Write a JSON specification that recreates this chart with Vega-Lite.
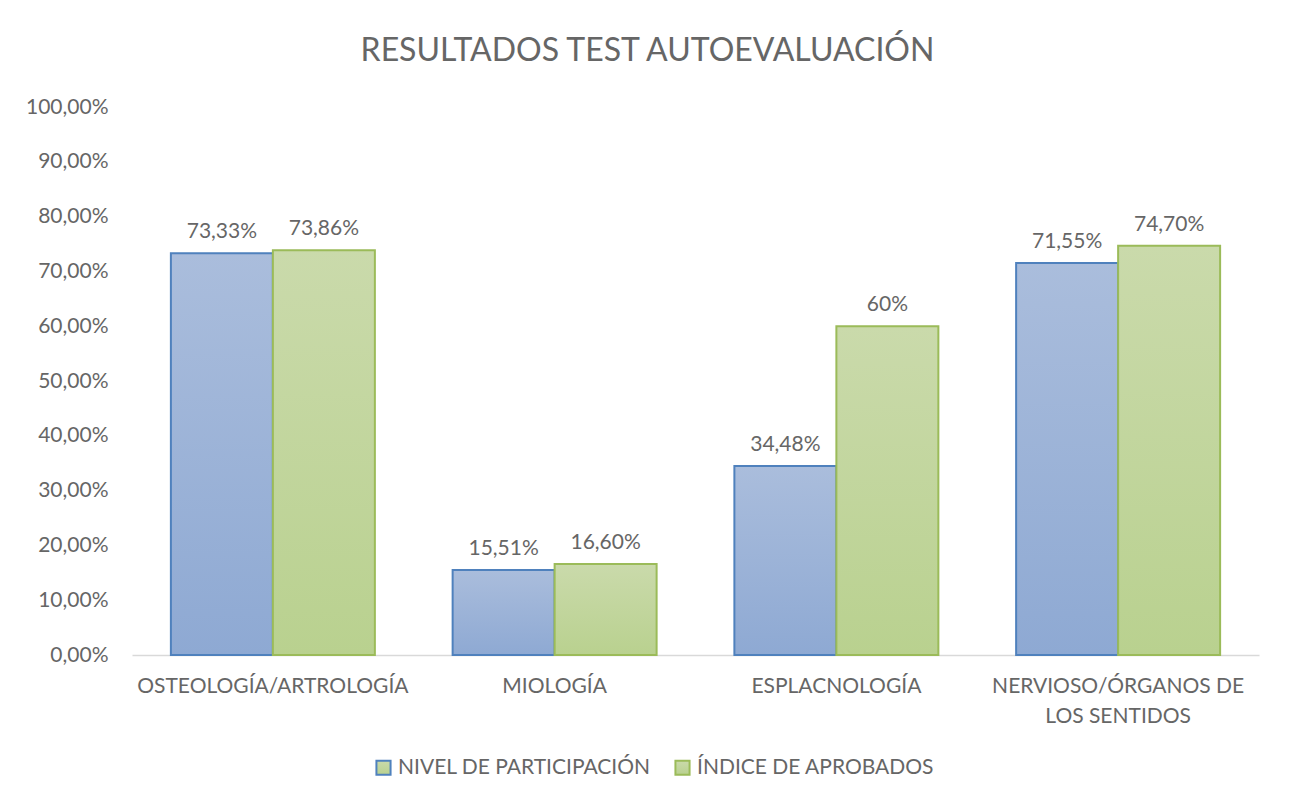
{
  "$schema": "https://vega.github.io/schema/vega-lite/v6.json",
  "width": 1127,
  "height": 548,
  "autosize": {"type": "none"},
  "padding": {"left": 132, "top": 107, "right": 32, "bottom": 145},
  "background": "white",
  "config": {
    "locale": {"number": {"decimal": ",", "thousands": ".", "grouping": [3], "currency": ["", " €"]}},
    "font": "Lato",
    "view": {"stroke": null}
  },
  "title": {
    "text": "RESULTADOS TEST AUTOEVALUACIÓN",
    "fontSize": 32,
    "fontWeight": "normal",
    "color": "#666666",
    "font": "Lato",
    "anchor": "middle",
    "dx": -48,
    "offset": 28
  },
  "data": {
    "values": [
      {"cat": "OSTEOLOGÍA/ARTROLOGÍA", "series": "NIVEL DE PARTICIPACIÓN", "value": 0.7333, "label": "73,33%"},
      {"cat": "OSTEOLOGÍA/ARTROLOGÍA", "series": "ÍNDICE DE APROBADOS", "value": 0.7386, "label": "73,86%"},
      {"cat": "MIOLOGÍA", "series": "NIVEL DE PARTICIPACIÓN", "value": 0.1551, "label": "15,51%"},
      {"cat": "MIOLOGÍA", "series": "ÍNDICE DE APROBADOS", "value": 0.166, "label": "16,60%"},
      {"cat": "ESPLACNOLOGÍA", "series": "NIVEL DE PARTICIPACIÓN", "value": 0.3448, "label": "34,48%"},
      {"cat": "ESPLACNOLOGÍA", "series": "ÍNDICE DE APROBADOS", "value": 0.60, "label": "60%"},
      {"cat": "NERVIOSO/ÓRGANOS DE LOS SENTIDOS", "series": "NIVEL DE PARTICIPACIÓN", "value": 0.7155, "label": "71,55%"},
      {"cat": "NERVIOSO/ÓRGANOS DE LOS SENTIDOS", "series": "ÍNDICE DE APROBADOS", "value": 0.747, "label": "74,70%"}
    ]
  },
  "encoding": {
    "x": {
      "field": "cat",
      "type": "nominal",
      "sort": null,
      "title": null,
      "scale": {"paddingInner": 0.276, "paddingOuter": 0.138},
      "axis": {
        "labelAngle": 0,
        "labelFontSize": 21,
        "labelColor": "#666666",
        "labelFont": "Lato",
        "labelPadding": 20,
        "labelLineHeight": 30,
        "labelLimit": 500,
        "ticks": false,
        "domainColor": "#D9D9D9",
        "domainWidth": 1.5,
        "labelExpr": "datum.label == 'NERVIOSO/ÓRGANOS DE LOS SENTIDOS' ? ['NERVIOSO/ÓRGANOS DE', 'LOS SENTIDOS'] : datum.label"
      }
    },
    "xOffset": {"field": "series", "type": "nominal", "sort": null, "scale": {"paddingInner": 0, "paddingOuter": 0}},
    "y": {
      "field": "value",
      "type": "quantitative",
      "title": null,
      "scale": {"domain": [0, 1], "nice": false},
      "axis": {
        "format": ".2%",
        "values": [0, 0.1, 0.2, 0.3, 0.4, 0.5, 0.6, 0.7, 0.8, 0.9, 1],
        "labelFontSize": 21,
        "labelColor": "#666666",
        "labelFont": "Lato",
        "labelPadding": 24,
        "ticks": false,
        "domain": false,
        "grid": false
      }
    }
  },
  "layer": [
    {
      "mark": {"type": "bar", "strokeWidth": 2},
      "encoding": {
        "fill": {
          "condition": {
            "test": "datum.series === 'NIVEL DE PARTICIPACIÓN'",
            "value": {"gradient": "linear", "x1": 0, "y1": 0, "x2": 0, "y2": 1, "stops": [{"offset": 0, "color": "#AABDDC"}, {"offset": 1, "color": "#8EA9D3"}]}
          },
          "value": {"gradient": "linear", "x1": 0, "y1": 0, "x2": 0, "y2": 1, "stops": [{"offset": 0, "color": "#CADAAB"}, {"offset": 1, "color": "#B9D18F"}]}
        },
        "stroke": {
          "field": "series",
          "type": "nominal",
          "sort": null,
          "scale": {"domain": ["NIVEL DE PARTICIPACIÓN", "ÍNDICE DE APROBADOS"], "range": ["#4F81BD", "#9BBB59"]},
          "legend": {
            "title": null,
            "orient": "none",
            "direction": "horizontal",
            "legendX": 241,
            "legendY": 650,
            "symbolType": "square",
            "symbolSize": 200,
            "symbolStrokeWidth": 2,
            "labelFontSize": 21,
            "labelColor": "#666666",
            "labelFont": "Lato",
            "labelLimit": 400,
            "columnPadding": 20,
            "labelOffset": 4,
            "encode": {
              "symbols": {
                "update": {
                  "fill": {"signal": "datum.value === 'NIVEL DE PARTICIPACIÓN' ? '#9DB3D8' : '#C2D69B'"},
                  "fillOpacity": {"value": 1}
                }
              }
            }
          }
        }
      }
    },
    {
      "mark": {"type": "text", "baseline": "bottom", "dy": -11, "fontSize": 21, "color": "#666666", "font": "Lato"},
      "encoding": {"text": {"field": "label"}}
    }
  ]
}
